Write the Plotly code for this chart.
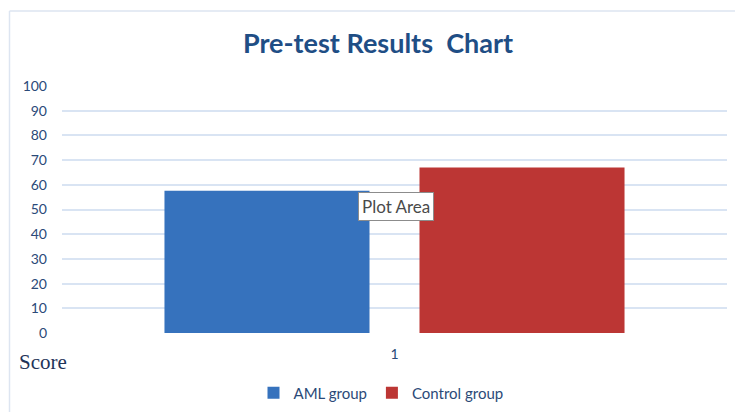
import plotly.graph_objects as go

categories = ["1"]
series_names = ["AML group", "Control group"]
aml_values = [57.6]
control_values = [67.0]
y_ticks = [0, 10, 20, 30, 40, 50, 60, 70, 80, 90, 100]

W, H = 735, 412
ml, mr, mt, mb = 62, 8, 86, 79
pw, ph = W - ml - mr, H - mt - mb

def px_x(x):
    return (x - ml) / pw

def px_y(y):
    return (H - mb - y) / ph

fig = go.Figure()
fig.add_trace(go.Bar(x=categories, y=aml_values, name=series_names[0],
                     marker=dict(color="#3672bd", line=dict(width=0))))
fig.add_trace(go.Bar(x=categories, y=control_values, name=series_names[1],
                     marker=dict(color="#bc3634", line=dict(width=0))))

text_blue = "#2b4a78"
fig.update_layout(
    width=W, height=H,
    margin=dict(l=ml, r=mr, t=mt, b=mb, autoexpand=False),
    paper_bgcolor="white", plot_bgcolor="white",
    barmode="group", bargap=0.233, bargroupgap=0.196,
    font=dict(family="Lato", size=14, color=text_blue),
    title=dict(text="<b>Pre-test Results  Chart</b>", x=px_x(378), xanchor="center",
               xref="paper", y=1 - 44 / H, yanchor="middle",
               font=dict(family="Lato", size=27, color="#1f4e85")),
    showlegend=True,
    legend=dict(orientation="h", x=px_x(381), xanchor="center",
                yref="container", y=1 - 393 / H, yanchor="middle",
                font=dict(family="Lato", size=15, color=text_blue),
                itemwidth=30, traceorder="normal", tracegroupgap=0),
    xaxis=dict(showgrid=False, zeroline=False, showline=False, ticks="",
               ticklabelstandoff=11, tickfont=dict(size=14, color=text_blue)),
    yaxis=dict(range=[0, 100], tickvals=y_ticks, showgrid=True, gridcolor="#d9e4f3",
               gridwidth=1.5, zeroline=False, showline=False, ticks="",
               ticklabelstandoff=14, tickfont=dict(size=14, color=text_blue)),
    shapes=[
        dict(type="line", xref="paper", yref="paper", x0=px_x(9.5), x1=px_x(735),
             y0=px_y(11), y1=px_y(11), line=dict(color="#dde5f1", width=1.5)),
        dict(type="line", xref="paper", yref="paper", x0=px_x(9.5), x1=px_x(9.5),
             y0=px_y(11), y1=px_y(412), line=dict(color="#dde5f1", width=1.5)),
    ],
    annotations=[
        dict(text="Score", xref="paper", yref="paper", x=px_x(17), y=px_y(362),
             xanchor="left", yanchor="middle", showarrow=False,
             font=dict(family="Liberation Serif", size=21, color="#1f3459")),
        dict(text="Plot Area", xref="paper", yref="paper", x=px_x(395.5), y=px_y(206),
             xanchor="center", yanchor="middle", showarrow=False,
             bgcolor="white", bordercolor="#8c8c8c", borderwidth=1, borderpad=3,
             font=dict(family="Lato", size=17, color="#4a4a4a")),
    ],
)

fig.write_html("out.html", config={"displayModeBar": False},
               post_script="document.body.style.margin='0';document.body.style.padding='0';")
